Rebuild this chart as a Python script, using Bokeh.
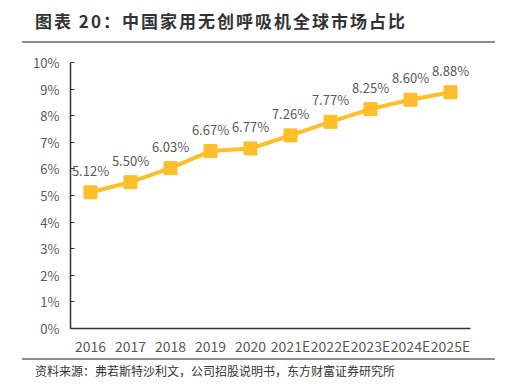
from bokeh.plotting import figure
from bokeh.models import Div, FixedTicker, ColumnDataSource
from bokeh.layouts import column
from bokeh.embed import file_html
from bokeh.resources import INLINE
from bokeh.core.properties import value

title_text = "图表 20：中国家用无创呼吸机全球市场占比"
source_text = "资料来源：弗若斯特沙利文，公司招股说明书，东方财富证券研究所"
years = ["2016", "2017", "2018", "2019", "2020", "2021E", "2022E", "2023E", "2024E", "2025E"]
share = [5.12, 5.50, 6.03, 6.67, 6.77, 7.26, 7.77, 8.25, 8.60, 8.88]
labels = ["5.12%", "5.50%", "6.03%", "6.67%", "6.77%", "7.26%", "7.77%", "8.25%", "8.60%", "8.88%"]
y_ticks = list(range(0, 11))

FONT = "Noto Sans CJK SC"
GRAY = "#595959"
GOLD = "#FFBE2A"
RULE = "#8c8c8c"

src = ColumnDataSource(dict(x=years, y=share, t=labels))

title_div = Div(
    text=title_text, width=480, height=33, margin=(0, 0, 0, 27),
    styles={"font-family": FONT, "font-weight": "bold", "font-size": "17px", "color": "#333333",
            "letter-spacing": "2px", "line-height": "26px"})
rule_top = Div(text="", width=473, height=2, margin=(0, 0, 0, 14),
               styles={"background-color": RULE})

p = figure(x_range=years, y_range=(0, 10), width=502, height=315,
           output_backend="svg", toolbar_location=None,
           min_border_left=62, min_border_right=40, min_border_top=19, min_border_bottom=30)
p.outline_line_color = None
p.xgrid.grid_line_color = None
p.ygrid.grid_line_color = None
p.background_fill_color = "white"
p.border_fill_color = "white"

p.line("x", "y", source=src, line_color=GOLD, line_width=4)
p.scatter("x", "y", source=src, marker="square", size=13, fill_color=GOLD, line_color=GOLD)
p.text("x", "y", text="t", source=src, y_offset=-22, text_align="center", text_baseline="middle",
       text_font=value(FONT), text_font_size="13px", text_color=GRAY)

p.yaxis.ticker = FixedTicker(ticks=y_ticks)
p.yaxis.major_label_overrides = {t: f"{t}%" for t in y_ticks}
p.yaxis.minor_tick_line_color = None
p.yaxis.major_tick_in = 4
p.yaxis.major_tick_out = 0
p.yaxis.axis_line_color = "#333333"
p.yaxis.axis_line_width = 1.5
p.yaxis.major_tick_line_color = "#333333"
p.yaxis.major_label_text_font = FONT
p.yaxis.major_label_text_font_size = "13px"
p.yaxis.major_label_text_color = GRAY
p.yaxis.major_label_standoff = 11

p.xaxis.axis_line_color = "#333333"
p.xaxis.axis_line_width = 1.5
p.xaxis.major_tick_line_color = None
p.xaxis.major_label_text_font = FONT
p.xaxis.major_label_text_font_size = "14px"
p.xaxis.major_label_text_color = GRAY
p.xaxis.major_label_standoff = 1

rule_bot = Div(text="", width=473, height=2, margin=(0, 0, 0, 14),
               styles={"background-color": RULE})
foot_div = Div(
    text=source_text, width=480, height=24, margin=(0, 0, 0, 27),
    styles={"font-family": FONT, "font-size": "12px", "color": "#333333", "line-height": "22px"})

layout = column(title_div, rule_top, p, rule_bot, foot_div, spacing=0, margin=(8, 0, 0, 8))
open("out.html", "w").write(file_html(layout, INLINE))
